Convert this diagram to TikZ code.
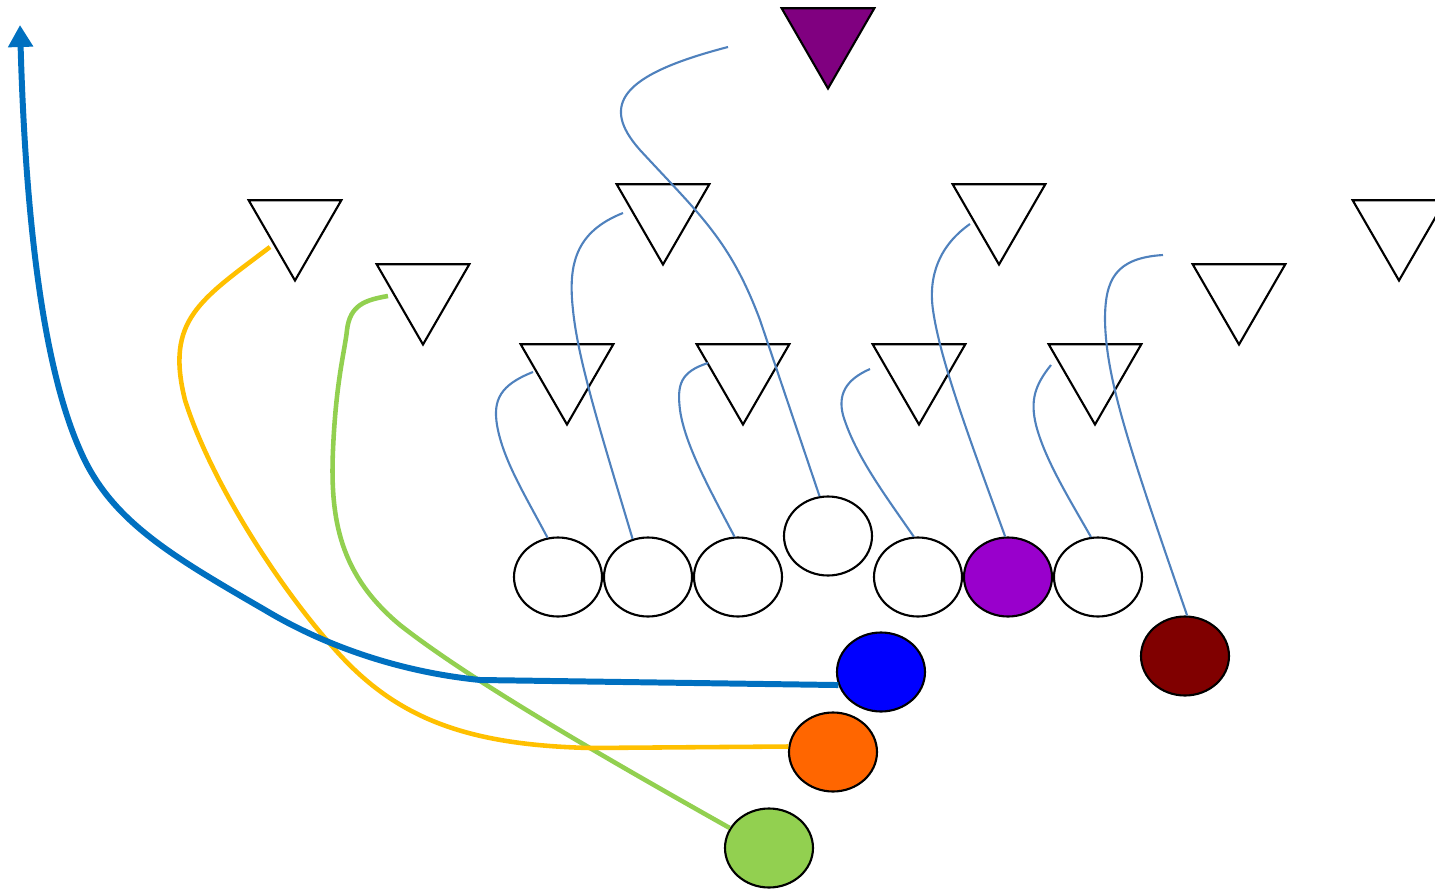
\documentclass[tikz,border=0pt]{standalone}
\usetikzlibrary{shapes.geometric,arrows.meta}
\definecolor{routeblue}{HTML}{4F81BD}
\definecolor{deepblue}{HTML}{0070C0}
\definecolor{gold}{HTML}{FFC000}
\definecolor{lime}{HTML}{92D050}
\definecolor{plum}{HTML}{800080}
\definecolor{violet}{HTML}{9900CC}
\definecolor{maroon}{HTML}{800000}
\definecolor{tangerine}{HTML}{FF6600}
\tikzset{
  defender/.style={regular polygon, regular polygon sides=3, shape border rotate=180, draw, fill=white, minimum size=10.7mm, inner sep=0pt, line width=0.6pt},
  player/.style={ellipse, draw, fill=white, minimum width=8.8mm, minimum height=7.9mm, inner sep=0pt, line width=0.6pt},
  block/.style={line width=0.6pt, routeblue},
  runroute/.style={line width=1.3pt}
}

\begin{document}
\begin{tikzpicture}[x=0.1mm, y=-0.1mm]
  \useasboundingbox (0,0) rectangle (1435,891);

  % defense
  \node[defender, fill=plum] (S) at (828,35) {};
  \node[defender] (D1) at (295,227) {};
  \node[defender] (D2) at (423,291) {};
  \node[defender] (D3) at (663,211) {};
  \node[defender] (D4) at (999,211) {};
  \node[defender] (D5) at (1399,227) {};
  \node[defender] (D6) at (1239,291) {};
  \node[defender] (L1) at (567,371) {};
  \node[defender] (L2) at (743,371) {};
  \node[defender] (L3) at (919,371) {};
  \node[defender] (L4) at (1095,371) {};

  % offense
  \node[player] (O1) at (558,577) {};
  \node[player] (O2) at (648,577) {};
  \node[player] (O3) at (738,577) {};
  \node[player] (C) at (828,536) {};
  \node[player] (O5) at (918,577) {};
  \node[player, fill=violet] (O6) at (1008,577) {};
  \node[player] (O7) at (1098,577) {};
  \node[player, fill=maroon] (TE) at (1185,656) {};
  \node[player, fill=blue] (RB) at (881,672) {};
  \node[player, fill=tangerine] (WR) at (833,752) {};
  \node[player, fill=lime] (SR) at (769,848) {};

  % block starts
  \coordinate (b1) at (728,47);
  \coordinate (b2) at (623,213);
  \coordinate (b3) at (533,372);
  \coordinate (b4) at (708,363);
  \coordinate (b5) at (870,369);
  \coordinate (b6) at (970,224);
  \coordinate (b7) at (1051,365);
  \coordinate (b8) at (1163,255);
  \coordinate (goal) at (20,25);
  \coordinate (y0) at (270,247);
  \coordinate (g0) at (388,296);

  % blocks
  \draw[block] (b1) .. controls (620,75) and (600,105) .. (640,150)
    .. controls (700,215) and (730,240) .. (760,320) -- (C.102);
  \draw[block] (b2) .. controls (575,232) and (568,265) .. (573,310)
    .. controls (578,360) and (600,430) .. (O2.112);
  \draw[block] (b3) .. controls (500,385) and (493,400) .. (497,425)
    .. controls (503,460) and (525,495) .. (O1.105);
  \draw[block] (b4) .. controls (680,372) and (677,385) .. (680,410)
    .. controls (685,445) and (710,490) .. (O3.95);
  \draw[block] (b5) .. controls (845,380) and (838,395) .. (843,415)
    .. controls (855,455) and (885,495) .. (O5.96);
  \draw[block] (b6) .. controls (940,245) and (928,275) .. (933,310)
    .. controls (940,360) and (970,440) .. (O6.94);
  \draw[block] (b7) .. controls (1035,385) and (1030,400) .. (1036,425)
    .. controls (1045,460) and (1070,500) .. (O7.100);
  \draw[block] (b8) .. controls (1115,258) and (1105,280) .. (1105,320)
    .. controls (1106,380) and (1130,450) .. (TE.87);

  % routes
  \draw[runroute, lime] (SR.153) .. controls (600,755) and (470,680) .. (400,625)
    .. controls (340,575) and (330,520) .. (333,450)
    .. controls (336,380) and (345,350) .. (347,330)
    .. controls (350,305) and (365,300) .. (g0);
  \draw[runroute, gold] (WR.173) -- (590,748)
    .. controls (470,745) and (400,720) .. (340,655)
    .. controls (280,590) and (210,480) .. (185,400)
    .. controls (165,320) and (200,300) .. (y0);
  \draw[line width=1.7pt, deepblue, -{Triangle[length=2.2mm, width=2.4mm]}]
    (RB.197) -- (480,680)
    .. controls (400,672) and (325,646) .. (265,610)
    .. controls (170,555) and (110,520) .. (80,450)
    .. controls (40,360) and (25,200) .. (goal);
\end{tikzpicture}
\end{document}
